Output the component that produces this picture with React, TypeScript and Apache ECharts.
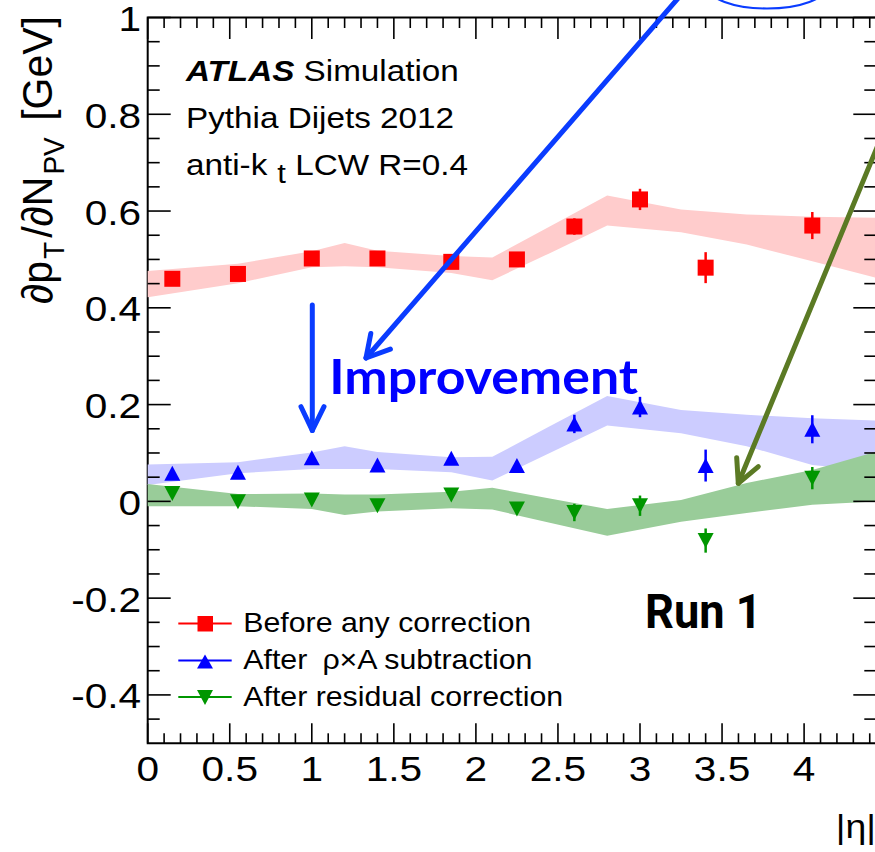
import React, { useEffect, useRef } from 'react';
import * as echarts from 'echarts';

// ---------------- data ----------------
const ETA = [0.15, 0.55, 1.0, 1.4, 1.85, 2.25, 2.6, 3.0, 3.4, 4.05];
const BEFORE = [0.460, 0.470, 0.502, 0.502, 0.495, 0.500, 0.568, 0.624, 0.483, 0.570];
const BEFORE_ERR = [0.008, 0.008, 0.008, 0.008, 0.008, 0.009, 0.017, 0.022, 0.032, 0.028];
const AFTER_RHOA = [0.058, 0.060, 0.090, 0.075, 0.089, 0.074, 0.160, 0.195, 0.074, 0.149];
const AFTER_RHOA_ERR = [0.008, 0.008, 0.008, 0.008, 0.008, 0.008, 0.019, 0.021, 0.033, 0.029];
const AFTER_RESID = [0.016, -0.001, 0.003, -0.009, 0.013, -0.016, -0.023, -0.009, -0.081, 0.048];
const AFTER_RESID_ERR = [0.008, 0.008, 0.008, 0.008, 0.008, 0.008, 0.018, 0.021, 0.025, 0.023];

const BAND_ETA = [0, 0.55, 1.0, 1.2, 1.4, 1.85, 2.1, 2.45, 2.8, 3.25, 3.65, 4.05, 4.44];
const BAND_BEFORE_HI = [0.476, 0.491, 0.517, 0.534, 0.518, 0.507, 0.504, 0.568, 0.632, 0.603, 0.593, 0.588, 0.586];
const BAND_BEFORE_LO = [0.422, 0.451, 0.484, 0.486, 0.484, 0.472, 0.457, 0.513, 0.570, 0.556, 0.531, 0.496, 0.462];
const BAND_RHOA_HI = [0.076, 0.081, 0.101, 0.114, 0.102, 0.091, 0.092, 0.155, 0.218, 0.189, 0.179, 0.172, 0.167];
const BAND_RHOA_LO = [0.034, 0.058, 0.067, 0.067, 0.067, 0.060, 0.043, 0.100, 0.157, 0.141, 0.114, 0.075, 0.062];
const BAND_RESID_HI = [0.036, 0.015, 0.016, 0.014, 0.014, 0.020, 0.028, 0.006, -0.016, 0.003, 0.038, 0.065, 0.103];
const BAND_RESID_LO = [-0.010, -0.010, -0.016, -0.028, -0.021, -0.014, -0.017, -0.044, -0.071, -0.042, -0.024, -0.007, 0.000];

const X_TICK_LABELS = [0, 0.5, 1, 1.5, 2, 2.5, 3, 3.5, 4];
const Y_TICK_LABELS = [-0.4, -0.2, 0, 0.2, 0.4, 0.6, 0.8, 1];
const X_MINOR_STEP = 0.1;
const Y_MINOR_STEP = 0.05;

const SERIES_NAMES = ['Before any correction', 'After\u2002\u03C1\u00D7A subtraction', 'After residual correction'];

// ---------------- layout / style ----------------
const X_MIN = 0, X_MAX = 4.44, Y_MIN = -0.5, Y_MAX = 1;
const PX_PER_X = 164.1;
const GRID_LEFT = 147.7, GRID_TOP = 17.5, GRID_H = 725.8;
const HELV = "'Liberation Sans', Arial, Helvetica, sans-serif";
const GEO = "Lato, 'Noto Sans', sans-serif";
const GEO2 = "Roboto, 'Noto Sans', sans-serif";
const C_HELV = 0.3465;
const C_GEO = 0.387;
const RED = '#ff0000', BLUE = '#0000ff', GREEN = '#009600';
const ARROW_BLUE = '#0a3cff', OLIVE = '#5b7a24';

function makeMeasure() {
  const c = document.createElement('canvas');
  const ctx = c.getContext('2d') as CanvasRenderingContext2D;
  return (text: string, font: string) => { ctx.font = font; return ctx.measureText(text).width; };
}

type Part = { t: string; fs: number; pre?: string; dy?: number; gap?: number; fill?: string };

function layoutRuns(measure: any, parts: Part[], x0: number, baseline: number, sx: number, z: number) {
  const els: any[] = [];
  let x = x0;
  for (const p of parts) {
    x += p.gap || 0;
    const font = `${p.pre ? p.pre + ' ' : ''}${p.fs}px ${HELV}`;
    els.push({
      type: 'text', x, y: baseline + (p.dy || 0) - C_HELV * p.fs, scaleX: sx, z, silent: true,
      style: { text: p.t, font, fill: p.fill || '#000', textAlign: 'left', textVerticalAlign: 'middle' },
    });
    x += measure(p.t, font) * sx;
  }
  return { els, end: x };
}

function minorTicks(lo: number, hi: number, step: number, majors: number[]) {
  const out: number[] = [];
  for (let i = 1; lo + i * step < hi - 1e-9; i++) {
    const v = Math.round((lo + i * step) * 1000) / 1000;
    if (!majors.some((m) => Math.abs(m - v) < 1e-6)) out.push(v);
  }
  return out;
}

function bandSeries(name: string, lo: number[], hi: number[], color: string) {
  return {
    type: 'custom', name, z: 1, silent: true,
    data: BAND_ETA.map((x, i) => [x, lo[i], hi[i]]),
    encode: { x: 0, y: [1, 2] },
    renderItem: (params: any, api: any) => {
      if (params.dataIndex !== 0) return null;
      const upper = BAND_ETA.map((x, i) => api.coord([x, hi[i]]));
      const lower = BAND_ETA.map((x, i) => api.coord([x, lo[i]])).reverse();
      return { type: 'polygon', shape: { points: upper.concat(lower) }, style: { fill: color } };
    },
  };
}

function errSeries(vals: number[], errs: number[], color: string) {
  return {
    type: 'custom', z: 3, silent: true,
    data: ETA.map((x, i) => [x, vals[i], errs[i]]),
    encode: { x: 0, y: 1 },
    renderItem: (params: any, api: any) => {
      const x = api.value(0), y = api.value(1), e = api.value(2);
      const a = api.coord([x, y - e]);
      const b = api.coord([x, y + e]);
      return { type: 'line', shape: { x1: a[0], y1: a[1], x2: b[0], y2: b[1] }, style: { stroke: color, lineWidth: 2.5 } };
    },
  };
}

function markerSeries(name: string, vals: number[], color: string, symbol: string, size: any, rotate: number) {
  return {
    type: 'scatter', name, z: 4, silent: true,
    data: ETA.map((x, i) => [x, vals[i]]),
    symbol, symbolSize: size, symbolRotate: rotate,
    itemStyle: { color, opacity: 1 },
  };
}

export default function App() {
  const ref = useRef<HTMLDivElement>(null);
  useEffect(() => {
    if (!ref.current) return;
    const chart = echarts.init(ref.current, undefined, { renderer: 'svg' });
    const measure = makeMeasure();

    const LABEL_FS = 35;
    const LABEL_SX = 1.16;
    const xMinor = minorTicks(X_MIN, X_MAX, X_MINOR_STEP, X_TICK_LABELS);
    const yMinor = minorTicks(Y_MIN, Y_MAX, Y_MINOR_STEP, Y_TICK_LABELS);
    const xTicks = [...X_TICK_LABELS.map((v) => [v, 1]), ...xMinor.map((v) => [v, 0])];
    const yTicks = [...Y_TICK_LABELS.map((v) => [v, 1]), ...yMinor.map((v) => [v, 0])];
    const fmt = (v: number) => String(Math.round(v * 100) / 100);

    const tickLine = (x1: number, y1: number, x2: number, y2: number) => ({
      type: 'line', shape: { x1, y1, x2, y2 }, style: { stroke: '#000', lineWidth: 1.6 },
    });

    // ---------- graphic annotations ----------
    const Z = 100;
    const els: any[] = [];
    const helvSx = 268 / measure('Pythia Dijets 2012', `29px ${HELV}`);
    els.push(...layoutRuns(measure, [{ t: 'ATLAS', fs: 29, pre: 'italic bold' }, { t: ' Simulation', fs: 29 }], 186, 81.5, helvSx, Z).els);
    els.push(...layoutRuns(measure, [{ t: 'Pythia Dijets 2012', fs: 29 }], 186, 128.5, helvSx, Z).els);
    els.push(...layoutRuns(measure, [
      { t: 'anti-k', fs: 29 }, { t: 't', fs: 27, dy: 8, gap: 10 }, { t: ' LCW R=0.4', fs: 29 },
    ], 186, 175, helvSx, Z).els);

    // legend
    const legSx = 288 / measure(SERIES_NAMES[0], `28px ${HELV}`);
    const LEG_Y = [623.5, 660.5, 697];
    const LEG_BASE = [632, 669, 706];
    const legColors = [RED, BLUE, GREEN];
    for (let i = 0; i < 3; i++) {
      const yc = LEG_Y[i];
      els.push({ type: 'line', z: Z, silent: true, shape: { x1: 178.3, y1: yc, x2: 231.7, y2: yc }, style: { stroke: legColors[i], lineWidth: 2.2 } });
      if (i === 0) {
        els.push({ type: 'rect', z: Z, silent: true, shape: { x: 197.5, y: yc - 7.5, width: 15.5, height: 15.5 }, style: { fill: RED } });
      } else if (i === 1) {
        els.push({ type: 'polygon', z: Z, silent: true, shape: { points: [[205, yc - 6], [213, yc + 8], [197, yc + 8]] }, style: { fill: BLUE } });
      } else {
        els.push({ type: 'polygon', z: Z, silent: true, shape: { points: [[197, yc - 7], [213, yc - 7], [205, yc + 8]] }, style: { fill: GREEN } });
      }
      els.push(...layoutRuns(measure, [{ t: SERIES_NAMES[i], fs: 28 }], 243.3, LEG_BASE[i], legSx, Z).els);
    }

    // y-axis title (rotated)
    const titleParts: Part[] = [
      { t: '\u2202', fs: 41 }, { t: 'p', fs: 41 }, { t: 'T', fs: 28, dy: 11, gap: 2 }, { t: '/', fs: 41, gap: 4 },
      { t: '\u2202', fs: 41 }, { t: 'N', fs: 41 }, { t: 'PV', fs: 28, dy: 11, gap: 2 }, { t: ' [GeV]', fs: 41, gap: 5 },
    ];
    const tl = layoutRuns(measure, titleParts, 0, 0, 1, Z);
    const tw = tl.end;
    els.push({
      type: 'group', x: 52, y: 16, rotation: Math.PI / 2, scaleY: 1.06, z: Z,
      children: tl.els.map((e: any) => ({ ...e, x: e.x - tw })),
    });

    // x-axis title
    els.push({
      type: 'text', z: Z, silent: true, x: 876, y: 838 - C_HELV * 34, scaleX: 1.1,
      style: { text: '|\u03B7|', font: `34px ${HELV}`, fill: '#000', textAlign: 'right', textVerticalAlign: 'middle' },
    });

    // Improvement / Run 1
    const impFont = `bold 48px ${GEO}`;
    els.push({
      type: 'text', z: Z, silent: true, x: 329.3, y: 394 - C_GEO * 48, scaleX: 309 / measure('Improvement', impFont),
      style: { text: 'Improvement', font: impFont, fill: BLUE, textAlign: 'left', textVerticalAlign: 'middle' },
    });
    const runFont = `bold 49px ${GEO2}`;
    els.push({
      type: 'text', z: Z, silent: true, x: 645, y: 629 - 0.36 * 49, scaleX: 116.7 / measure('Run 1', runFont),
      style: { text: 'Run 1', font: runFont, fill: '#000', textAlign: 'left', textVerticalAlign: 'middle' },
    });

    // arrows
    const arrowStyle = (c: string) => ({ stroke: c, lineWidth: 5, lineCap: 'round', lineJoin: 'round', fill: 'none' });
    els.push({ type: 'line', z: Z, silent: true, shape: { x1: 700, y1: -27, x2: 366, y2: 358 }, style: arrowStyle(ARROW_BLUE) });
    els.push({ type: 'polyline', z: Z, silent: true, shape: { points: [[390.4, 349.2], [366, 358], [370.8, 333.5]] }, style: arrowStyle(ARROW_BLUE) });
    els.push({ type: 'line', z: Z, silent: true, shape: { x1: 312.3, y1: 305, x2: 312.3, y2: 430.5 }, style: arrowStyle(ARROW_BLUE) });
    els.push({ type: 'polyline', z: Z, silent: true, shape: { points: [[301, 406.7], [312.3, 430.5], [324, 406.7]] }, style: arrowStyle(ARROW_BLUE) });
    els.push({ type: 'line', z: Z, silent: true, shape: { x1: 890, y1: 116, x2: 738.3, y2: 483.3 }, style: arrowStyle(OLIVE) });
    els.push({ type: 'polyline', z: Z, silent: true, shape: { points: [[736.7, 457.7], [738.3, 483.3], [758.3, 466.7]] }, style: arrowStyle(OLIVE) });
    els.push({ type: 'ellipse', z: Z, silent: true, shape: { cx: 767, cy: -14, rx: 60, ry: 22.5 }, style: { stroke: ARROW_BLUE, lineWidth: 2.2, fill: 'none' } });

    const option: any = {
      animation: false,
      grid: {
        left: GRID_LEFT, top: GRID_TOP, width: X_MAX * PX_PER_X, height: GRID_H,
        show: true, borderColor: '#000', borderWidth: 2, backgroundColor: 'transparent',
        outerBoundsMode: 'none', containLabel: false,
      },
      xAxis: { type: 'value', min: X_MIN, max: X_MAX, show: false },
      yAxis: { type: 'value', min: Y_MIN, max: Y_MAX, show: false },
      series: [
        bandSeries('band-before', BAND_BEFORE_LO, BAND_BEFORE_HI, '#ffcccc'),
        bandSeries('band-rhoa', BAND_RHOA_LO, BAND_RHOA_HI, '#ccccff'),
        bandSeries('band-resid', BAND_RESID_LO, BAND_RESID_HI, '#99cc99'),
        errSeries(BEFORE, BEFORE_ERR, RED),
        errSeries(AFTER_RHOA, AFTER_RHOA_ERR, BLUE),
        errSeries(AFTER_RESID, AFTER_RESID_ERR, GREEN),
        markerSeries(SERIES_NAMES[0], BEFORE, RED, 'rect', 16, 0),
        markerSeries(SERIES_NAMES[1], AFTER_RHOA, BLUE, 'triangle', [16, 15], 0),
        markerSeries(SERIES_NAMES[2], AFTER_RESID, GREEN, 'triangle', [16, 15], 180),
        {
          type: 'custom', z: 6, silent: true, data: xTicks, encode: { x: 0, y: 1 },
          renderItem: (params: any, api: any) => {
            const v = api.value(0);
            const major = api.value(1) === 1;
            const b = api.coord([v, Y_MIN]);
            const t = api.coord([v, Y_MAX]);
            const lb = major ? 20 : 10, lt = major ? 21.5 : 10.5;
            return { type: 'group', children: [tickLine(b[0], b[1], b[0], b[1] - lb), tickLine(t[0], t[1], t[0], t[1] + lt)] };
          },
        },
        {
          type: 'custom', z: 6, silent: true, data: yTicks, encode: { x: 0, y: 1 },
          renderItem: (params: any, api: any) => {
            const v = api.value(0);
            const major = api.value(1) === 1;
            const l = api.coord([X_MIN, v]);
            const r = api.coord([X_MAX, v]);
            const len = major ? 23 : 12;
            return { type: 'group', children: [tickLine(l[0], l[1], l[0] + len, l[1]), tickLine(r[0], r[1], r[0] - len, r[1])] };
          },
        },
        {
          type: 'custom', z: 6, silent: true, data: X_TICK_LABELS.map((v) => [v, Y_MIN]), encode: { x: 0, y: 1 },
          renderItem: (params: any, api: any) => {
            const v = api.value(0);
            const p = api.coord([v, Y_MIN]);
            return {
              type: 'text', x: p[0], y: p[1] + 25.5, scaleX: LABEL_SX,
              style: { text: fmt(v), font: `${LABEL_FS}px ${HELV}`, fill: '#000', textAlign: 'center', textVerticalAlign: 'middle' },
            };
          },
        },
        {
          type: 'custom', z: 6, silent: true, data: Y_TICK_LABELS.map((v) => [X_MIN, v]), encode: { x: 0, y: 1 },
          renderItem: (params: any, api: any) => {
            const v = api.value(1);
            const p = api.coord([X_MIN, v]);
            return {
              type: 'text', x: p[0] - 6.5, y: p[1] + 1.5, scaleX: LABEL_SX,
              style: { text: fmt(v), font: `${LABEL_FS}px ${HELV}`, fill: '#000', textAlign: 'right', textVerticalAlign: 'middle' },
            };
          },
        },
      ],
      graphic: { elements: els },
    };
    chart.setOption(option);
    return () => chart.dispose();
  }, []);
  return <div ref={ref} style={{ position: 'fixed', left: 0, top: 0, width: 875, height: 852, background: '#fff' }} />;
}
